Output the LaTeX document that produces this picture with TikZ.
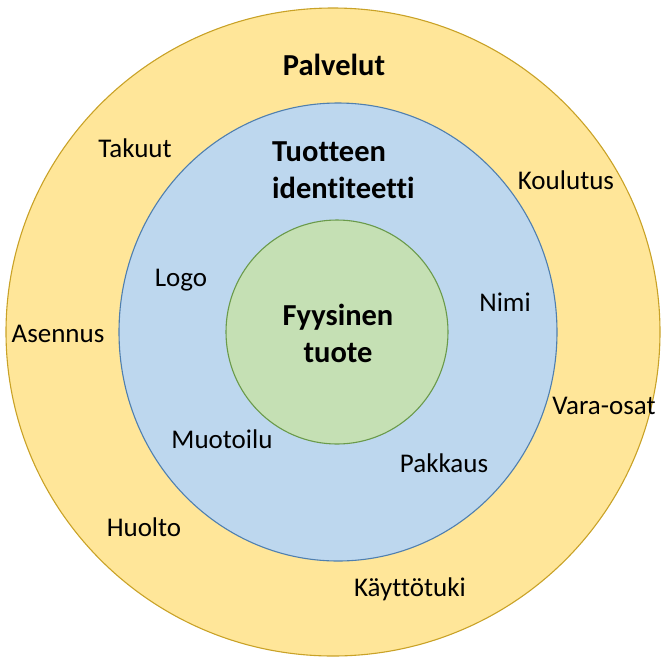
\documentclass[tikz,border=0pt]{standalone}
\usepackage{fontspec}
\setmainfont{Carlito}[Ligatures=NoCommon]
\begin{document}
\begin{tikzpicture}[x=1pt,y=-1pt,
  lbl/.style={inner sep=0pt, font=\fontsize{27}{32}\selectfont},
  head/.style={inner sep=0pt, font=\fontsize{30.5}{37}\selectfont\bfseries, align=center},
  ring/.style={line width=1.1pt}]
\useasboundingbox (0,0) rectangle (662,657);
\definecolor{goldfill}{HTML}{FFE699}
\definecolor{goldline}{HTML}{C9A227}
\definecolor{bluefill}{HTML}{BDD7EE}
\definecolor{blueline}{HTML}{4F7FAF}
\definecolor{greenfill}{HTML}{C5E0B4}
\definecolor{greenline}{HTML}{6A9A4A}

% three nested rings
\draw[ring, fill=goldfill, draw=goldline] (333,332) ellipse [x radius=327, y radius=324];
\draw[ring, fill=bluefill, draw=blueline] (338,332) ellipse [x radius=219, y radius=229];
\draw[ring, fill=greenfill, draw=greenline] (337,332) ellipse [x radius=111, y radius=112];

% headings
\node[head] (palvelut) at (334,65) {Palvelut};
\node[head, anchor=west, align=left] (identiteetti) at (272,170) {Tuotteen\\identiteetti};
\node[head] (fyysinen) at (338,333) {Fyysinen\\tuote};

% services
\node[lbl] (takuut) at (135,148) {Takuut};
\node[lbl] (koulutus) at (566,180) {Koulutus};
\node[lbl] (asennus) at (58,334) {Asennus};
\node[lbl] (varaosat) at (604,406) {Vara-osat};
\node[lbl] (huolto) at (144,527) {Huolto};
\node[lbl] (kayttotuki) at (410,589) {Käyttötuki};

% identity
\node[lbl] (logo) at (181,280) {Logo};
\node[lbl] (nimi) at (505,302) {Nimi};
\node[lbl] (muotoilu) at (222,439) {Muotoilu};
\node[lbl] (pakkaus) at (444,463) {Pakkaus};
\end{tikzpicture}
\end{document}
